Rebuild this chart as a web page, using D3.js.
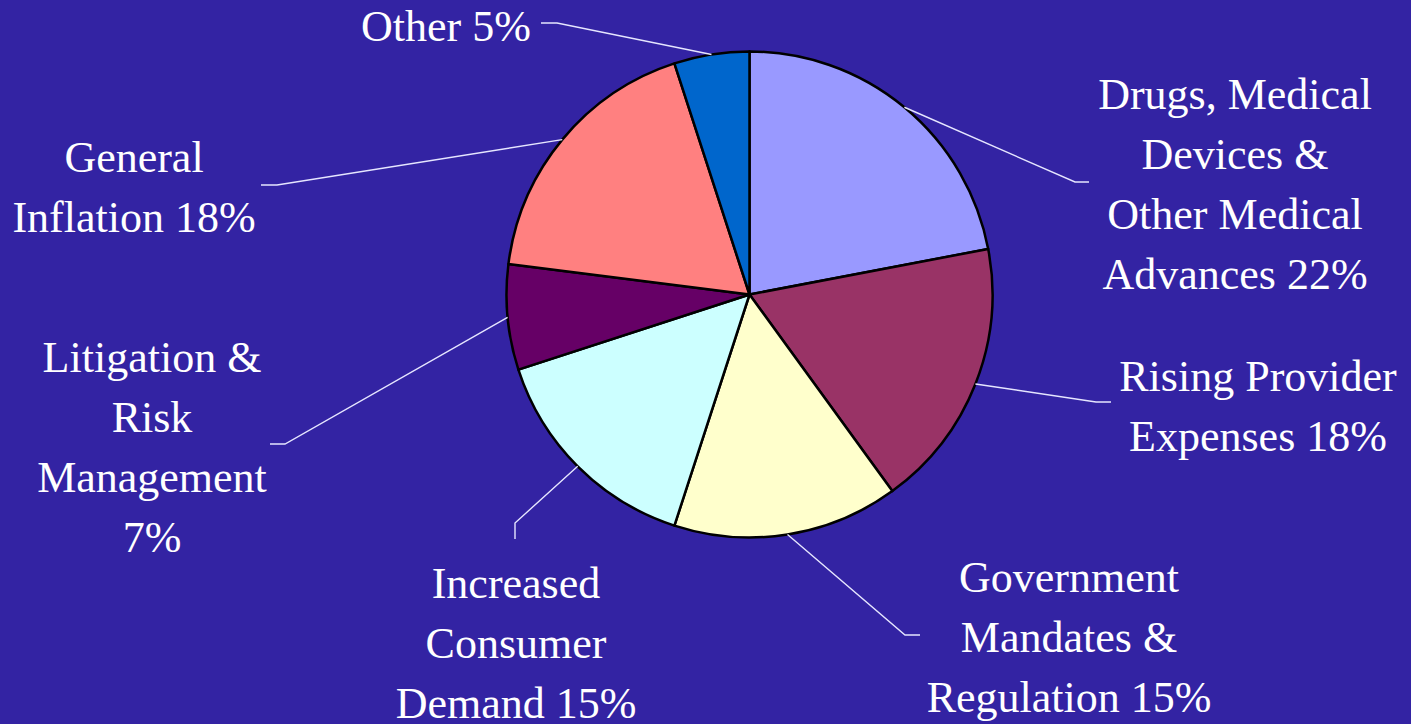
<!DOCTYPE html>
<html>
<head>
<meta charset="utf-8">
<script src="https://cdn.jsdelivr.net/npm/d3@7"></script>
<style>
  html, body { margin: 0; padding: 0; background: #3323a3; }
  svg { display: block; }
</style>
</head>
<body>
<svg id="chart" width="1411" height="724"></svg>
<script>
// Drivers of health cost increases (share of total, %)
const categories = [
  "Drugs, Medical Devices & Other Medical Advances",
  "Rising Provider Expenses",
  "Government Mandates & Regulation",
  "Increased Consumer Demand",
  "Litigation & Risk Management",
  "General Inflation",
  "Other"
];
const values = [22, 18, 15, 15, 7, 18, 5];
const labelLines = [
  ["Drugs, Medical", "Devices &", "Other Medical", "Advances 22%"],
  ["Rising Provider", "Expenses 18%"],
  ["Government", "Mandates &", "Regulation 15%"],
  ["Increased", "Consumer", "Demand 15%"],
  ["Litigation &", "Risk", "Management", "7%"],
  ["General", "Inflation 18%"],
  ["Other 5%"]
];
const colors = ["#9999ff", "#993366", "#ffffcc", "#ccffff", "#660066", "#ff8080", "#0066cc"];

// Label placement: text centre x, first baseline y, leader elbow and leader end
const labelLayout = [
  { tx: 1235, ty: 109, elbow: [1075, 182], end: [1089, 182] },
  { tx: 1258, ty: 391, elbow: [1096, 402], end: [1111, 402] },
  { tx: 1069, ty: 592, elbow: [905, 635], end: [920, 635] },
  { tx: 516,  ty: 598, elbow: [515, 523], end: [515, 539] },
  { tx: 152,  ty: 372, elbow: [285, 444], end: [270, 444] },
  { tx: 134,  ty: 172, elbow: [277, 185], end: [261, 185] },
  { tx: 446,  ty: 41,  elbow: [557, 23],  end: [541, 23] }
];

const cx = 749.5, cy = 294.5, radius = 243;
const lineHeight = 60;

const svg = d3.select("#chart");
svg.append("rect").attr("width", 1411).attr("height", 724).attr("fill", "#3323a3");

const data = categories.map((c, i) => ({ name: c, value: values[i], i }));

const pie = d3.pie().value(d => d.value).sort(null);
const arcs = pie(data);
const arc = d3.arc().innerRadius(0).outerRadius(radius);

const g = svg.append("g").attr("transform", `translate(${cx},${cy})`);

g.selectAll("path.slice")
  .data(arcs)
  .join("path")
  .attr("class", "slice")
  .attr("d", arc)
  .attr("fill", d => colors[d.data.i])
  .attr("stroke", "#000")
  .attr("stroke-width", 2.5)
  .attr("stroke-linejoin", "round");

// Leader lines from each slice's mid-angle on the rim
const leaders = svg.append("g");
arcs.forEach(a => {
  const mid = (a.startAngle + a.endAngle) / 2;
  const sx = cx + radius * Math.sin(mid);
  const sy = cy - radius * Math.cos(mid);
  const L = labelLayout[a.data.i];
  leaders.append("polyline")
    .attr("points", [[sx, sy], L.elbow, L.end].map(p => p.join(",")).join(" "))
    .attr("fill", "none")
    .attr("stroke", "#e6e6ff")
    .attr("stroke-width", 1.4);
});

// Labels
const labels = svg.append("g")
  .attr("font-family", "'Liberation Serif', 'Times New Roman', serif")
  .attr("font-size", 44)
  .attr("fill", "#ffffff")
  .attr("text-anchor", "middle");

data.forEach(d => {
  const L = labelLayout[d.i];
  const t = labels.append("text").attr("x", L.tx).attr("y", L.ty);
  labelLines[d.i].forEach((line, k) => {
    t.append("tspan")
      .attr("x", L.tx)
      .attr("y", L.ty + k * lineHeight)
      .text(line);
  });
});
</script>
</body>
</html>
